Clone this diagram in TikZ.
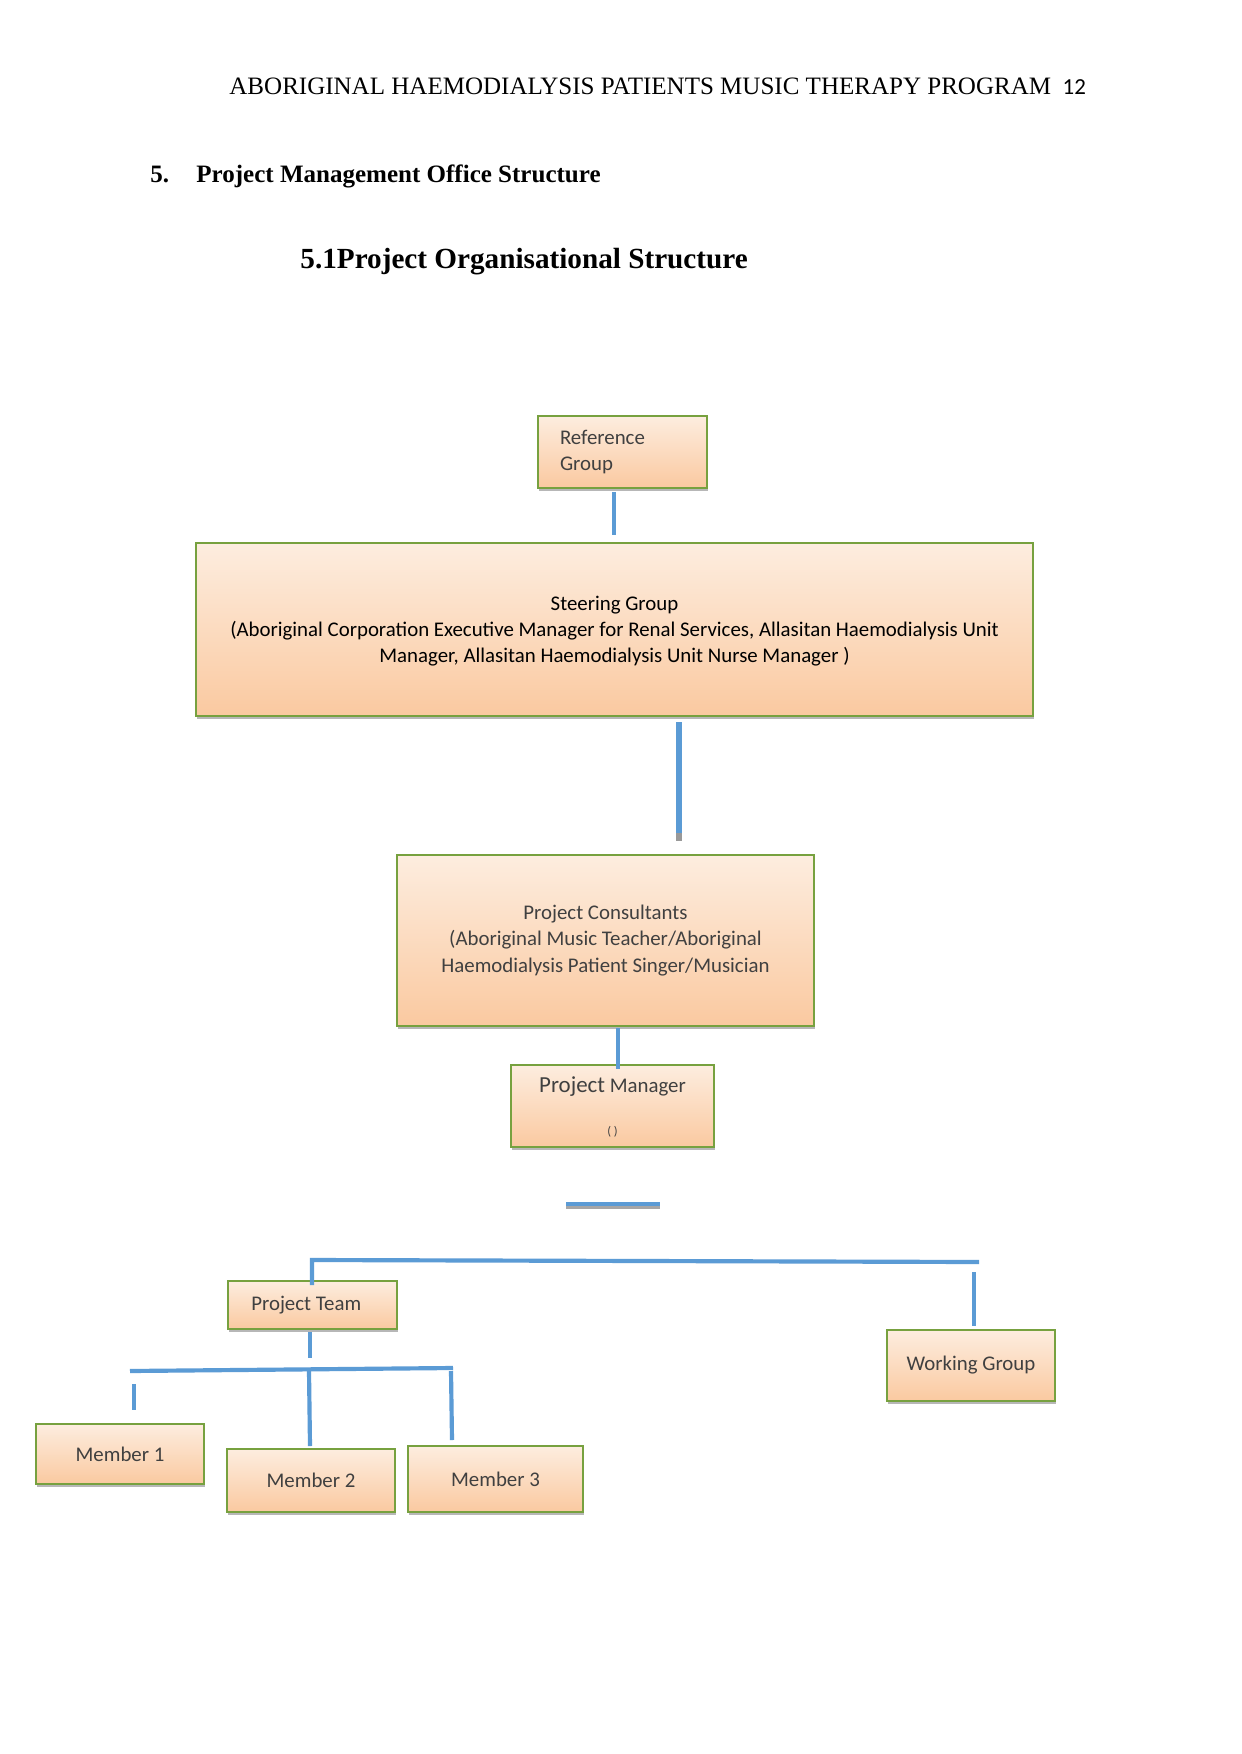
\documentclass[tikz,border=0pt]{standalone}
\usepackage{fontspec}
\setmainfont{Liberation Serif}
\newfontfamily\calfont{Carlito}
\usetikzlibrary{shadows}
\definecolor{linkblue}{HTML}{5B9BD5}
\definecolor{bordergreen}{HTML}{77A13F}
\definecolor{peachtop}{HTML}{FDEDDF}
\definecolor{peachbot}{HTML}{FAC9A0}
\definecolor{boxtext}{HTML}{404040}
\def\px{0.4795pt}
\tikzset{
  orgbox/.style={draw=bordergreen, line width=1pt, top color=peachtop, bottom color=peachbot,
    font=\calfont\fontsize{10}{12.5}\selectfont, text=boxtext, align=center, inner sep=0pt,
    drop shadow={shadow xshift=0.6pt, shadow yshift=-1.6pt, fill=black!40, opacity=0.7}},
  link/.style={draw=linkblue, line width=2pt},
  linkshadow/.style={draw=black!35, line width=2pt},
}
\begin{document}
\begin{tikzpicture}[x=0.4795pt,y=-0.4795pt]
\useasboundingbox[fill=white] (0,0) rectangle (1241,1754);
% header and headings
\node[anchor=base west, inner sep=0pt, font=\fontsize{12}{14}\selectfont] (hdr) at (229,95)
  {ABORIGINAL HAEMODIALYSIS PATIENTS MUSIC THERAPY PROGRAM {\calfont\fontsize{11}{13}\selectfont\ 12}};
\node[anchor=base west, inner sep=0pt, font=\bfseries\fontsize{12}{14}\selectfont] (h5) at (150,183) {5.};
\node[anchor=base west, inner sep=0pt, font=\bfseries\fontsize{12}{14}\selectfont] (h5t) at (196,183) {Project Management Office Structure};
\node[anchor=base west, inner sep=0pt, font=\bfseries\fontsize{14}{16}\selectfont] (h51) at (300,269) {5.1Project Organisational Structure};
% boxes
\node[orgbox, minimum width=169*\px, minimum height=72*\px, text width=125*\px, align=left] (ref) at (622.5,452) {Reference\\Group};
\node[orgbox, text=black, minimum width=837*\px, minimum height=173*\px, text depth=-3pt] (steer) at (614.5,629.5)
  {Steering Group\\(Aboriginal Corporation Executive Manager for Renal Services, Allasitan Haemodialysis Unit\\Manager, Allasitan Haemodialysis Unit Nurse Manager )};
\node[orgbox, minimum width=417*\px, minimum height=171*\px] (cons) at (605.5,940.5)
  {Project Consultants\\(Aboriginal Music Teacher/Aboriginal\\Haemodialysis Patient Singer/Musician};
\node[orgbox, minimum width=203*\px, minimum height=82*\px, text depth=-3pt] (pm) at (612.5,1106)
  {{\fontsize{11}{13}\selectfont Project} Manager\\[8pt]{\fontsize{6}{7}\selectfont ( )}};
\node[orgbox, minimum width=169*\px, minimum height=48*\px] (team) at (312.5,1305) {Project Team\hspace*{6pt}};
\node[orgbox, minimum width=168*\px, minimum height=71*\px] (wg) at (971,1365.5) {Working Group};
\node[orgbox, minimum width=168*\px, minimum height=60*\px] (m1) at (120,1454) {Member 1};
\node[orgbox, minimum width=168*\px, minimum height=63*\px] (m2) at (311,1480.5) {Member 2};
\node[orgbox, minimum width=175*\px, minimum height=66*\px] (m3) at (495.5,1479) {Member 3};
% connector end points
\coordinate (a1) at (614,492);  \coordinate (a2) at (614,535);
\coordinate (b1) at (679,722);  \coordinate (b2) at (679,833); \coordinate (b3) at (679,841);
\coordinate (c1) at (618,1028); \coordinate (c2) at (618,1069);
\coordinate (d1) at (566,1204); \coordinate (d2) at (660,1204);
\coordinate (e1) at (312,1285); \coordinate (e2) at (312,1260); \coordinate (e3) at (979,1262);
\coordinate (f1) at (974,1272); \coordinate (f2) at (974,1326);
\coordinate (g1) at (310,1332); \coordinate (g2) at (310,1358);
\coordinate (h1) at (130,1371); \coordinate (h2) at (453,1368);
\coordinate (i1) at (134,1384); \coordinate (i2) at (134,1410);
\coordinate (j1) at (309,1371); \coordinate (j2) at (310,1446);
\coordinate (k1) at (451,1371); \coordinate (k2) at (452,1440);
% connectors
\draw[link] (a1) -- (a2);
\draw[link, line width=2.6pt] (b1) -- (b2);
\draw[draw=black!40, line width=2.6pt] (b2) -- (b3);
\draw[link] (c1) -- (c2);
\draw[linkshadow] ([yshift=-1.5pt]d1) -- ([yshift=-1.5pt]d2);
\draw[link] (d1) -- (d2);
\draw[link] (e1) -- (e2) -- (e3);
\draw[link] (f1) -- (f2);
\draw[link] (g1) -- (g2);
\draw[link] (h1) -- (h2);
\draw[link] (i1) -- (i2);
\draw[link] (j1) -- (j2);
\draw[link] (k1) -- (k2);
\end{tikzpicture}
\end{document}
